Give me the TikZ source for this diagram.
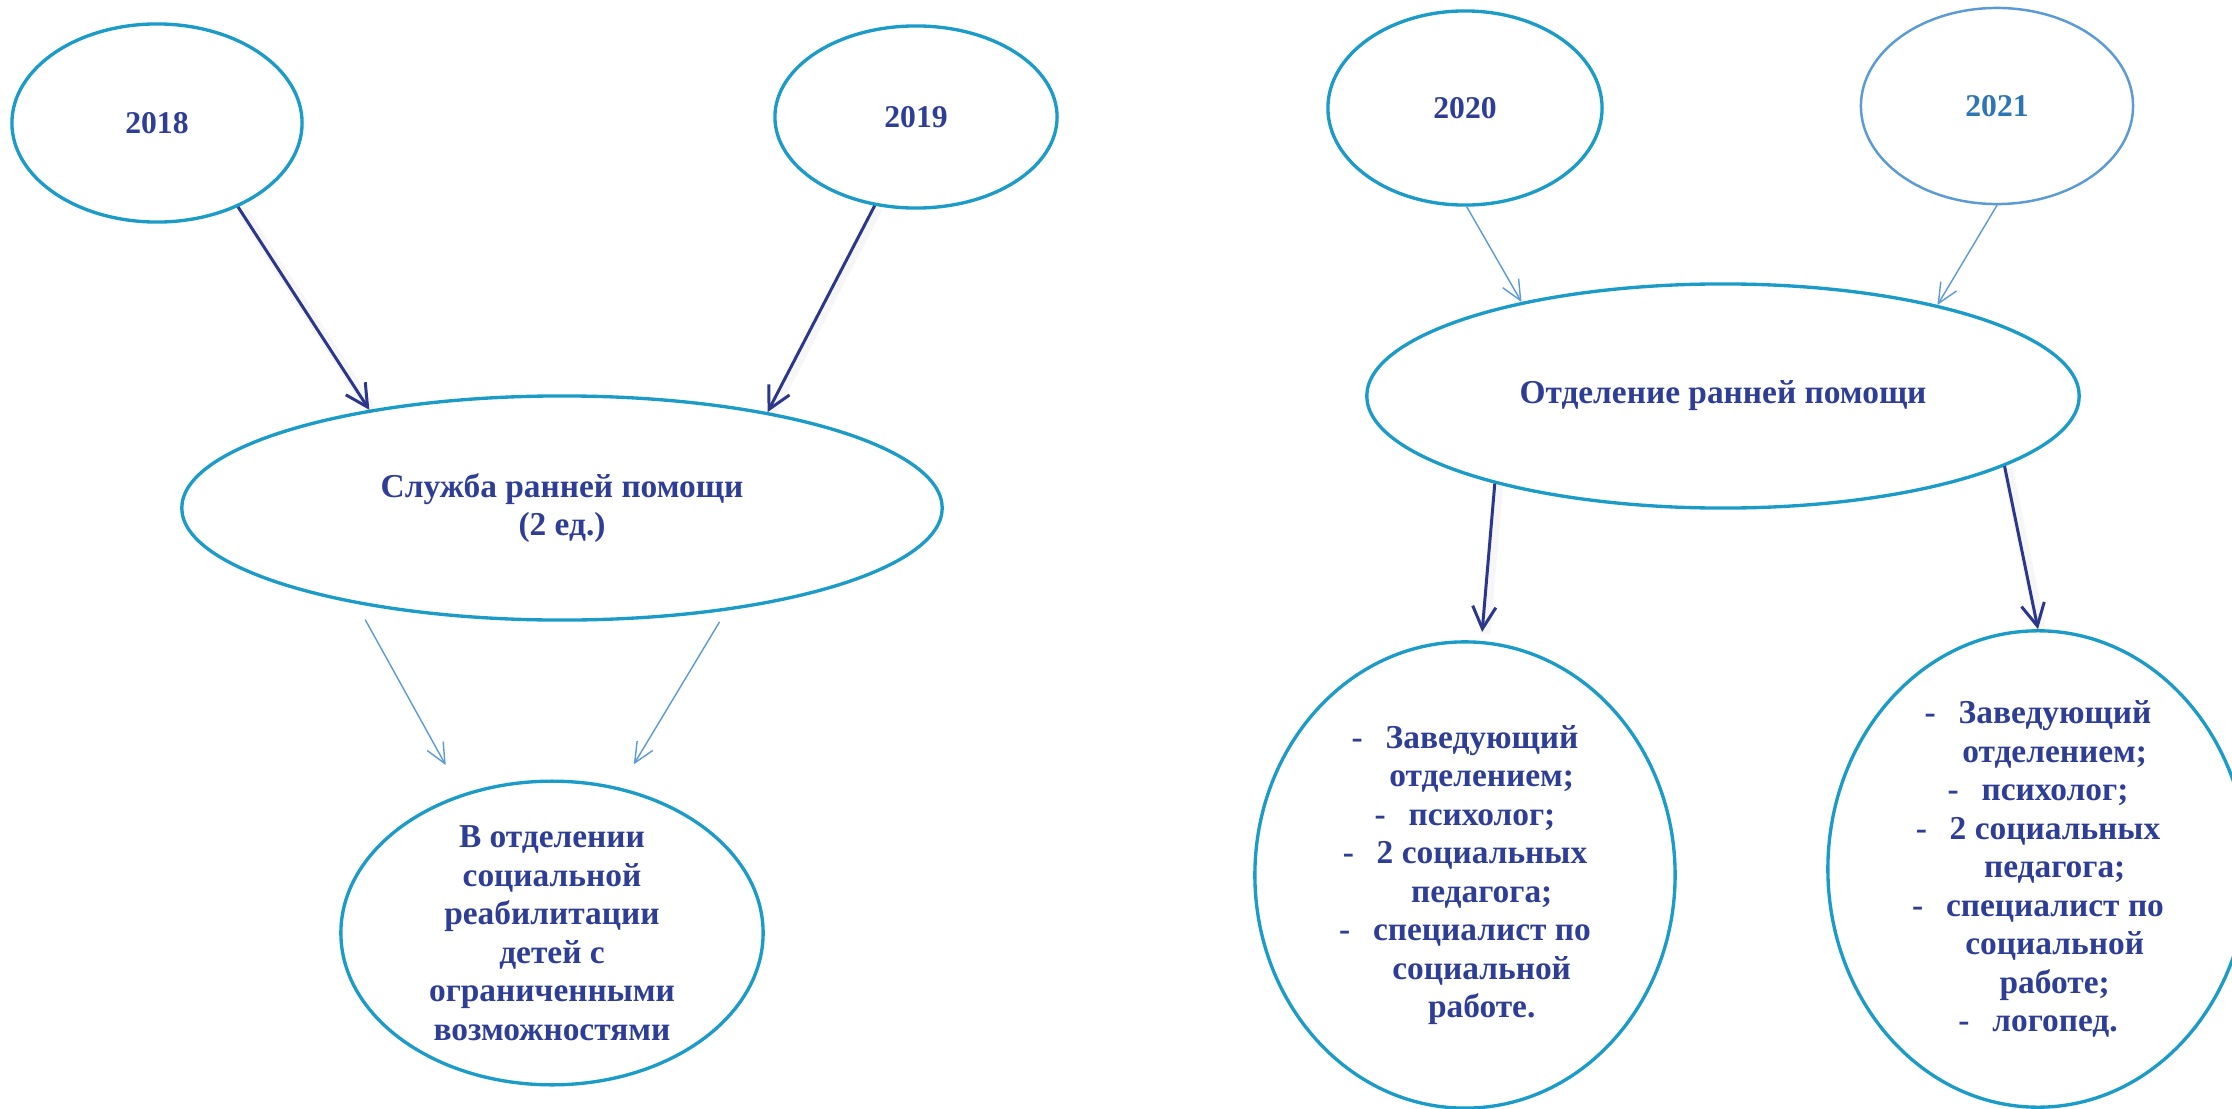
\documentclass[tikz,border=0pt]{standalone}
\usepackage{fontspec}
\setmainfont{Liberation Serif}
\usetikzlibrary{shapes.geometric,arrows.meta}
\definecolor{ring}{RGB}{27,155,200}
\definecolor{ringlight}{RGB}{91,155,213}
\definecolor{txt}{RGB}{46,62,150}
\definecolor{txtlight}{RGB}{46,117,182}
\definecolor{navy}{RGB}{43,55,140}
\definecolor{thinblue}{RGB}{91,155,213}
\begin{document}
\begin{tikzpicture}[x=0.01cm,y=-0.01cm,
  oval/.style={ellipse, draw=ring, line width=0.95pt, inner sep=0pt, text=txt,
    font=\bfseries\fontsize{9.5}{10.95}\selectfont, align=center},
  yearfont/.style={font=\bfseries\fontsize{9}{10}\selectfont},
  bigarrow/.style={draw=navy, line width=0.85pt,
    preaction={draw=black, draw opacity=0.035, line width=3pt, -,
      transform canvas={shift={(0.03cm,-0.02cm)}}},
    -{Straight Barb[length=6.3pt,width=6.6pt,line width=0.85pt]}},
  smallarrow/.style={draw=thinblue, line width=0.4pt,
    -{Straight Barb[length=5.7pt,width=5.2pt,line width=0.4pt]}},
]
\useasboundingbox (0,0) rectangle (2232,1109);
\clip (0,0) rectangle (2232,1109);
\fill[white] (0,0) rectangle (2232,1109);

% year ellipses
\node[oval, yearfont, minimum width=2.90cm, minimum height=1.98cm] (n18) at (157,123) {2018};
\node[oval, yearfont, minimum width=2.82cm, minimum height=1.82cm] (n19) at (916,117) {2019};
\node[oval, yearfont, minimum width=2.74cm, minimum height=1.94cm] (n20) at (1465,108) {2020};
\node[oval, yearfont, draw=ringlight, line width=0.7pt, text=txtlight,
      minimum width=2.72cm, minimum height=1.96cm] (n21) at (1997,106) {2021};

% main ellipses
\node[oval, minimum width=7.60cm, minimum height=2.24cm] (sl) at (562,508)
  {Служба ранней помощи\\(2 ед.)};
\node[oval, minimum width=4.22cm, minimum height=2.74cm] (vo) at (552,933)
  {В отделении\\социальной\\реабилитации\\детей с\\ограниченными\\возможностями};
\node[oval, minimum width=7.12cm, minimum height=2.24cm] (ot) at (1723,396)
  {Отделение ранней помощи};

% staff lists
\node[oval, minimum width=4.20cm, minimum height=4.66cm] (l1) at (1465,875)
  {-\hspace{6.5pt}Заведующий\\\hspace*{9.5pt}отделением;\\-\hspace{6.5pt}психолог;\\-\hspace{6.5pt}2 социальных\\\hspace*{9.5pt}педагога;\\-\hspace{6.5pt}специалист по\\\hspace*{9.5pt}социальной\\\hspace*{9.5pt}работе.};
\node[oval, minimum width=4.20cm, minimum height=4.72cm] (l2) at (2038,869)
  {-\hspace{6.5pt}Заведующий\\\hspace*{9.5pt}отделением;\\-\hspace{6.5pt}психолог;\\-\hspace{6.5pt}2 социальных\\\hspace*{9.5pt}педагога;\\-\hspace{6.5pt}специалист по\\\hspace*{9.5pt}социальной\\\hspace*{9.5pt}работе;\\-\hspace{6.5pt}логопед.};

% connectors
\draw[bigarrow] (n18.-46.4) -- (sl.153.1);
\draw[bigarrow] (n19.-115.3) -- (sl.25.1);
\draw[smallarrow, shorten <=0.18cm, shorten >=0.33cm] (sl.-155) -- (vo.123.9);
\draw[smallarrow, shorten <=0.13cm, shorten >=0.27cm] (sl.-32.3) -- (vo.65.7);
\draw[smallarrow] (n20.-89.4) -- (ot.155.6);
\draw[smallarrow] (n21.-90.6) -- (ot.23.8);
\draw[bigarrow, shorten >=0.09cm] (ot.-159.4) -- (l1.86.3);
\draw[bigarrow] (ot.-14.9) -- (l2.90);
\end{tikzpicture}
\end{document}
